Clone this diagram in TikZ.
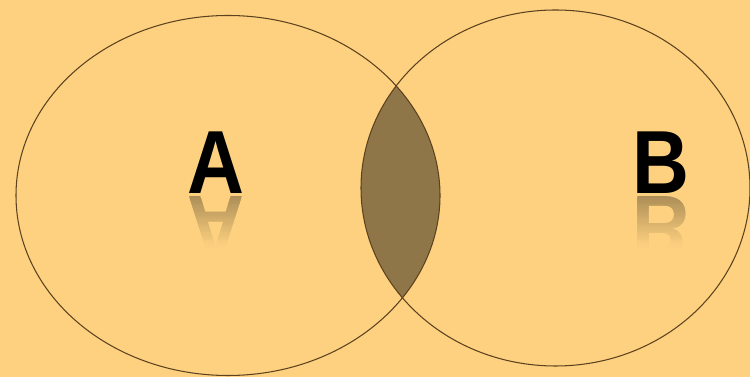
\documentclass[tikz,border=0pt]{standalone}
\usepackage{fontspec}
\setmainfont{Liberation Sans}
\usepackage{xcolor}
\definecolor{bgorange}{RGB}{254,209,128}
\definecolor{lensbrown}{RGB}{143,118,72}
\definecolor{rimbrown}{RGB}{92,66,30}

\tikzset{
  setline/.style={draw=rimbrown, line width=0.6pt},
  letter/.style={inner sep=0pt, anchor=base, transform shape, font=\fontsize{51}{51}\selectfont\bfseries}
}

\begin{document}
\begin{tikzpicture}[x=0.02cm, y=-0.02cm]
    % background
    \fill[bgorange] (0,0) rectangle (750,377);
    \useasboundingbox (0,0) rectangle (750,377);
    % overlap of the two sets
    \begin{scope}
        \clip (228,195.5) ellipse [x radius=212, y radius=180];
        \fill[lensbrown] (555.5,188) ellipse [x radius=194.5, y radius=178];
    \end{scope}
    \draw[setline] (228,195.5) ellipse [x radius=212, y radius=180];
    \draw[setline] (555.5,188) ellipse [x radius=194.5, y radius=178];
    % labels
    \begin{scope}[shift={(215.5,194)}, xscale=0.88]
        \node[letter] (setA) at (0,0) {A};
    \end{scope}
    \begin{scope}[shift={(660.5,194)}, xscale=0.88]
        \node[letter] (setB) at (0,0) {B};
    \end{scope}
    % mirrored labels, fading out
    \foreach \k in {0,...,24} {
        \pgfmathtruncatemacro{\pc}{32*(1-\k/25)}
        \begin{scope}
            \clip (150,197+2*\k) rectangle (720,199.6+2*\k);
            \begin{scope}[shift={(215.5,197)}, xscale=0.88, yscale=-1]
                \node[letter, text=black!\pc!bgorange] (mirA\k) at (0,0) {A};
            \end{scope}
            \begin{scope}[shift={(660.5,197)}, xscale=0.88, yscale=-1]
                \node[letter, text=black!\pc!bgorange] (mirB\k) at (0,0) {B};
            \end{scope}
        \end{scope}
    }
\end{tikzpicture}
\end{document}
